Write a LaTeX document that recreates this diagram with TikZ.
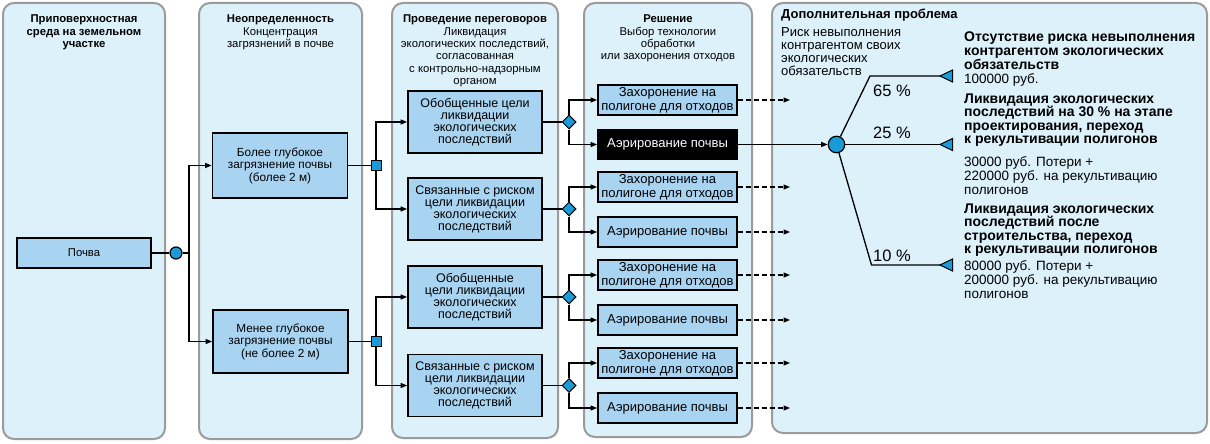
\documentclass[tikz,border=0pt]{standalone}
\usepackage{fontspec}
\setmainfont{Liberation Sans}
\usetikzlibrary{arrows.meta,shapes.geometric}
\definecolor{panelfill}{HTML}{DDF1FB}
\definecolor{panelline}{HTML}{9B9B9B}
\definecolor{boxfill}{HTML}{A8D3F1}
\definecolor{nodeblue}{HTML}{1B9AD8}
\newcommand{\fsz}[2]{\fontsize{#1}{#2}\selectfont}
\begin{document}
\begin{tikzpicture}[x=1pt,y=-1pt,
  panel/.style={draw=panelline,line width=2pt,fill=panelfill,rounded corners=11pt},
  hd/.style={inner sep=0pt,align=center,anchor=base,font=\fsz{11.3}{12.3}},
  box/.style={draw=black,line width=1.8pt,fill=boxfill,align=center,inner sep=0pt},
  boxA/.style={box,minimum width=135pt,font=\fsz{11.8}{12.5}},
  boxB/.style={box,minimum width=134pt,minimum height=62pt,font=\fsz{12.5}{12}},
  boxC/.style={box,minimum width=139pt,minimum height=30pt,font=\fsz{13}{14}},
  boxD/.style={boxC,fill=black,text=white},
  conn/.style={line width=1.3pt},
  arr/.style={conn,-{Triangle[length=6.5pt,width=5pt]}},
  darr/.style={arr,dash pattern=on 5pt off 3pt},
  circ/.style={circle,draw=black,line width=1.2pt,fill=nodeblue,inner sep=0pt},
  sq/.style={rectangle,draw=black,line width=1pt,fill=nodeblue,inner sep=0pt,minimum size=10pt},
  dia/.style={diamond,draw=black,line width=1pt,fill=nodeblue,inner sep=0pt,minimum size=14pt},
  tri/.style={draw=black,line width=1pt,fill=nodeblue,line join=miter},
  pct/.style={inner sep=0pt,anchor=base west,font=\fsz{16.5}{16.5}},
  rb/.style={inner sep=0pt,anchor=base west,align=left,font=\bfseries\fsz{14}{13.5}},
  rr/.style={inner sep=0pt,anchor=base west,align=left,font=\fsz{13.5}{14}},
]
\useasboundingbox (0,0) rectangle (1210,444);
\fill[white] (0,0) rectangle (1210,444);
% panels
\draw[panel] (3,3) rectangle (165,439);
\draw[panel] (199,3) rectangle (362,439);
\draw[panel] (392,3) rectangle (558,438);
\draw[panel] (584,3) rectangle (752,437);
\draw[panel] (772,3) rectangle (1207,433);
% headings (anchor = baseline of last line)
\node[hd,font=\bfseries\fsz{11.3}{12.3}] (h1) at (84,47.6) {Приповерхностная\\среда на земельном\\участке};
\node[hd] (h2) at (280.5,47.6) {\textbf{Неопределенность}\\Концентрация\\загрязнений в почве};
\node[hd,font=\fsz{11.3}{12.4}] (h3) at (475,84.7) {\textbf{Проведение переговоров}\\Ликвидация\\экологических последствий,\\согласованная\\с контрольно-надзорным\\органом};
\node[hd,font=\fsz{11.3}{12.4}] (h4) at (668,59.9) {\textbf{Решение}\\Выбор технологии\\обработки\\или захоронения отходов};
\node[inner sep=0pt,anchor=base west,font=\bfseries\fsz{13}{13}] (h5) at (781,18.3) {Дополнительная проблема};
\node[inner sep=0pt,anchor=base west,align=left,font=\fsz{13}{12.8}] (h5r) at (781,75.1) {Риск невыполнения\\контрагентом своих\\экологических\\обязательств};
% boxes
\node[box,minimum width=134pt,minimum height=30pt,font=\fsz{11.3}{12}] (soil) at (84,253) {Почва};
\node[boxA,minimum height=65pt] (b2a) at (280,165.5) {Более глубокое\\загрязнение почвы\\(более 2 м)};
\node[boxA,minimum height=63pt] (b2b) at (280.5,341.5) {Менее глубокое\\загрязнение почвы\\(не более 2 м)};
\node[boxB] (b3a) at (475,122) {Обобщенные цели\\ликвидации\\экологических\\последствий};
\node[boxB] (b3b) at (475,209) {Связанные с риском\\цели ликвидации\\экологических\\последствий};
\node[boxB] (b3c) at (475,297) {Обобщенные\\цели ликвидации\\экологических\\последствий};
\node[boxB] (b3d) at (475,385.5) {Связанные с риском\\цели ликвидации\\экологических\\последствий};
\node[boxC] (b4a) at (667.5,100) {Захоронение на\\полигоне для отходов};
\node[boxD,minimum height=29pt] (b4b) at (667.5,144.5) {Аэрирование почвы};
\node[boxC] (b4c) at (667.5,187) {Захоронение на\\полигоне для отходов};
\node[boxC] (b4d) at (667.5,232) {Аэрирование почвы};
\node[boxC] (b4e) at (667.5,275) {Захоронение на\\полигоне для отходов};
\node[boxC] (b4f) at (667.5,320) {Аэрирование почвы};
\node[boxC] (b4g) at (667.5,363) {Захоронение на\\полигоне для отходов};
\node[boxC] (b4h) at (667.5,408) {Аэрирование почвы};
% junction nodes
\node[circ,minimum size=12pt] (c1) at (176,253) {};
\node[sq] (s1) at (376,165.5) {};
\node[sq] (s2) at (376,341.5) {};
\node[dia] (d1) at (569,122) {};
\node[dia] (d2) at (569,209) {};
\node[dia] (d3) at (569,297) {};
\node[dia] (d4) at (569,385.5) {};
\node[circ,minimum size=16.5pt] (c2) at (836.5,144.5) {};
% connectors
\coordinate (j1) at (189,253);
\draw[conn] (soil) -- (c1);
\draw[conn] (c1) -- (j1);
\draw[arr] (j1) |- (b2a.west);
\draw[arr] (j1) |- (b2b.west);
\draw[conn] (b2a) -- (s1);
\draw[arr] (s1.north) |- (b3a.west);
\draw[arr] (s1.south) |- (b3b.west);
\draw[conn] (b2b) -- (s2);
\draw[arr] (s2.north) |- (b3c.west);
\draw[arr] (s2.south) |- (b3d.west);
\draw[conn] (b3a) -- (d1);
\draw[arr] (d1.north) |- (b4a.west);
\draw[arr] (d1.south) |- (b4b.west);
\draw[conn] (b3b) -- (d2);
\draw[arr] (d2.north) |- (b4c.west);
\draw[arr] (d2.south) |- (b4d.west);
\draw[conn] (b3c) -- (d3);
\draw[arr] (d3.north) |- (b4e.west);
\draw[arr] (d3.south) |- (b4f.west);
\draw[conn] (b3d) -- (d4);
\draw[arr] (d4.north) |- (b4g.west);
\draw[arr] (d4.south) |- (b4h.west);
\coordinate (dx) at (790,0);
\foreach \b in {b4a,b4c,b4d,b4e,b4f,b4g,b4h}
  \draw[darr] (\b.east) -- (\b.east -| dx);
\draw[arr] (b4b) -- (c2);
% outcome branches
\coordinate (k1) at (870,76);
\coordinate (t1) at (940,76);
\coordinate (t2) at (940,144.5);
\coordinate (k3) at (871.5,265);
\coordinate (t3) at (940,265);
\draw[conn] (c2) -- (k1) -- (t1);
\draw[conn] (c2) -- (t2);
\draw[conn] (c2) -- (k3) -- (t3);
\foreach \t in {t1,t2,t3}
  \draw[tri] (\t) -- ++(12.5,-6) -- ++(0,12) -- cycle;
\node[pct] (p65) at (873,96.7) {65 \%};
\node[pct] (p25) at (873,138) {25 \%};
\node[pct] (p10) at (873,261.7) {10 \%};
% outcome texts (anchor = baseline of last line)
\node[rb,font=\bfseries\fsz{14}{13.7}] (r1b) at (964,69.4) {Отсутствие риска невыполнения\\контрагентом экологических\\обязательств};
\node[rr] (r1r) at (964,83) {100000 руб.};
\node[rb,font=\bfseries\fsz{14}{13.4}] (r2b) at (964,143.7) {Ликвидация экологических\\последствий на 30 \% на этапе\\проектирования, переход\\к рекультивации полигонов};
\node[rr,font=\fsz{13.5}{13.8}] (r2r) at (964,194.1) {30000 руб. Потери +\\220000 руб. на рекультивацию\\полигонов};
\node[rb,font=\bfseries\fsz{14}{13.4}] (r3b) at (964,253.5) {Ликвидация экологических\\последствий после\\строительства, переход\\к рекультивации полигонов};
\node[rr] (r3r) at (964,298) {80000 руб. Потери +\\200000 руб. на рекультивацию\\полигонов};
\end{tikzpicture}
\end{document}
